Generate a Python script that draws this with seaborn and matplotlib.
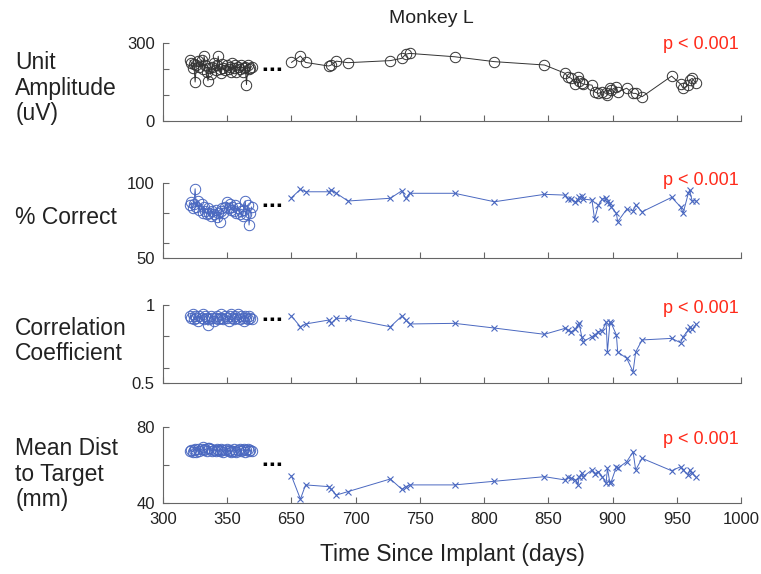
import numpy as np
import pandas as pd
import matplotlib
matplotlib.use("Agg")
import matplotlib.pyplot as plt
import matplotlib.transforms as mtrans
import seaborn as sns

# ---- data ----
early_days = [321, 322, 323, 324, 325, 326, 327, 328, 330, 331, 332, 333, 334, 335, 336,
              337, 338, 340, 341, 342, 343, 344, 345, 346, 347, 348, 350, 351, 352, 353,
              354, 355, 356, 357, 358, 360, 361, 362, 363, 364, 365, 366, 367, 368, 369]
late_days = [650, 657, 661, 679, 681, 685, 694, 727, 736, 739, 742, 777, 808, 847,
             863, 865, 868, 871, 873, 874, 876, 877, 884, 886, 889, 892, 895, 896,
             898, 899, 903, 904, 911, 916, 918, 923, 946, 953, 955, 959, 960, 962, 965]

amp_early = [235, 225, 205, 220, 150, 215, 230, 210, 235, 200, 250, 215, 190, 155, 205,
             180, 210, 225, 195, 215, 250, 200, 185, 220, 205, 195, 215, 200, 210, 190,
             225, 205, 215, 190, 210, 200, 215, 190, 205, 210, 140, 215, 200, 205, 210]
amp_late = [226, 251, 226, 212, 216, 231, 225, 233, 242, 258, 261, 248, 229, 216,
            184, 171, 164, 142, 171, 155, 145, 142, 138, 112, 106, 112, 106, 100,
            126, 119, 132, 112, 126, 106, 106, 93, 173, 142, 126, 138, 158, 164, 145]

pc_early = [85, 87, 83, 86, 96, 84, 88, 82, 86, 80, 84, 81, 79, 83, 80,
            78, 81, 79, 82, 77, 80, 74, 81, 83, 80, 84, 87, 83, 86, 82,
            84, 81, 85, 80, 83, 79, 81, 78, 82, 88, 79, 85, 72, 80, 84]
pc_late = [90.1, 95.6, 94.0, 94.0, 95.2, 93.0, 87.9, 89.7, 94.7, 89.7, 93.0, 93.0, 87.4, 92.3,
           91.8, 89.2, 89.2, 87.4, 88.5, 90.3, 91.2, 89.2, 88.5, 75.8, 85.2, 89.2, 89.7, 87.4,
           86.4, 84.1, 79.7, 74.2, 82.4, 81.5, 85.2, 80.8, 90.3, 84.0, 80.0, 93.0, 95.0, 88.0, 88.0]

cc_early = [0.93, 0.92, 0.94, 0.91, 0.93, 0.92, 0.90, 0.93, 0.92, 0.94, 0.91, 0.93, 0.92, 0.87, 0.91,
            0.93, 0.92, 0.90, 0.92, 0.93, 0.91, 0.92, 0.94, 0.92, 0.91, 0.93, 0.92, 0.90, 0.93, 0.94,
            0.92, 0.91, 0.93, 0.92, 0.94, 0.91, 0.93, 0.92, 0.90, 0.93, 0.92, 0.91, 0.93, 0.92, 0.91]
cc_late = [0.930, 0.861, 0.879, 0.904, 0.883, 0.915, 0.915, 0.861, 0.930, 0.904, 0.879, 0.883, 0.853, 0.813,
           0.851, 0.840, 0.830, 0.845, 0.872, 0.883, 0.798, 0.766, 0.798, 0.809, 0.830, 0.836, 0.890, 0.700,
           0.890, 0.883, 0.809, 0.700, 0.660, 0.574, 0.700, 0.777, 0.787, 0.759, 0.798, 0.840, 0.861, 0.845, 0.877]

md_early = [67.5, 68.0, 66.8, 67.9, 68.3, 67.0, 68.6, 67.4, 68.1, 69.2, 67.6, 68.4, 67.1, 68.8, 69.0,
            68.2, 67.3, 68.0, 67.5, 68.6, 67.9, 67.2, 68.4, 67.6, 66.9, 67.8, 68.3, 67.1, 67.7, 66.8,
            67.5, 68.1, 67.4, 66.9, 67.8, 68.5, 67.3, 67.9, 68.2, 67.0, 67.6, 68.1, 67.4, 67.8, 67.3]
md_late = [54.3, 42.2, 49.6, 48.7, 47.3, 44.3, 46.1, 52.7, 47.3, 48.7, 49.6, 49.6, 51.5, 53.9,
           52.2, 53.6, 53.0, 52.2, 49.6, 53.6, 55.7, 53.9, 57.4, 55.4, 56.5, 53.9, 50.4, 58.3,
           50.4, 51.3, 59.1, 58.3, 61.7, 66.9, 57.4, 63.5, 57.0, 59.1, 57.4, 54.8, 57.4, 55.7, 53.6]

row_labels = ["Unit\nAmplitude\n(uV)", "% Correct", "Correlation\nCoefficient", "Mean Dist\nto Target\n(mm)"]
y_limits = [(0, 300), (50, 100), (0.5, 1.0), (40, 80)]
y_ticks = [[0, 100, 200, 300], [50, 60, 80, 100], [0.5, 0.6, 0.8, 1.0], [40, 60, 80]]
y_ticklabels = [["0", "", "", "300"], ["50", "", "", "100"], ["0.5", "", "", "1"], ["40", "", "80"]]
x_ticks = [300, 350, 650, 700, 750, 800, 850, 900, 950, 1000]
dots_y = [200, 85.5, 0.91, 60.5]
p_text_y = [0.98, 1.03, 0.95, 0.83]
label_y_px = [88, 218, 341, 474]

series = [(amp_early, amp_late), (pc_early, pc_late), (cc_early, cc_late), (md_early, md_late)]

# ---- styling ----
sns.set_theme(style="white")
plt.rcParams['font.family'] = ['Liberation Sans', 'DejaVu Sans']

blue = "#4a68c0"
dark = "#333333"


# broken axis: squeeze out days 400-650
def fwd(d):
    d = np.asarray(d, dtype=float)
    return np.where(d <= 400, d, np.where(d >= 650, d - 250, 400))


def inv(c):
    c = np.asarray(c, dtype=float)
    return np.where(c <= 400, c, c + 250)


fig = plt.figure(figsize=(7.61, 5.74), dpi=100)
bottoms = [0.7897, 0.550, 0.3322, 0.1232]
heights = [0.1348, 0.1317, 0.1364, 0.1334]

for i in range(4):
    ax = fig.add_axes([0.2142, bottoms[i], 0.7595, heights[i]])
    ax.set_xscale('function', functions=(fwd, inv))
    early, late = series[i]
    col = dark if i == 0 else blue
    df_e = pd.DataFrame({"day": early_days, "val": early})
    df_l = pd.DataFrame({"day": late_days, "val": late})
    sns.lineplot(data=df_e, x="day", y="val", ax=ax, sort=False, estimator=None,
                 color=col, lw=0.7, marker="o", markersize=7.5, markerfacecolor="none",
                 markeredgecolor=col, markeredgewidth=0.7)
    if i == 0:
        sns.lineplot(data=df_l, x="day", y="val", ax=ax, sort=False, estimator=None,
                     color=col, lw=0.7, marker="o", markersize=7.5, markerfacecolor="none",
                     markeredgecolor=col, markeredgewidth=0.7)
    else:
        sns.lineplot(data=df_l, x="day", y="val", ax=ax, sort=False, estimator=None,
                     color=col, lw=0.7, marker="x", markersize=4.5,
                     markeredgecolor=col, markeredgewidth=0.8)

    ax.set_xlim(300, 1000)
    ax.set_ylim(*y_limits[i])
    ax.set_xticks(x_ticks)
    ax.set_yticks(y_ticks[i])
    ax.set_yticklabels(y_ticklabels[i])
    if i == 3:
        ax.set_xticklabels([str(t) for t in x_ticks])
        ax.set_xlabel("Time Since Implant (days)", fontsize=16.5, labelpad=12, color="#222222")
    else:
        ax.set_xticklabels([])
        ax.set_xlabel("")
    ax.set_ylabel("")
    ax.minorticks_off()

    for s in ["top", "right"]:
        ax.spines[s].set_visible(False)
    for s in ["left", "bottom"]:
        ax.spines[s].set_color("#666666")
        ax.spines[s].set_linewidth(0.8)
    ax.tick_params(direction="in", length=4, width=0.8, color="#666666",
                   labelsize=12, labelcolor="#222222", left=True, bottom=True, pad=6)

    # gap marker
    trans = mtrans.blended_transform_factory(ax.transAxes, ax.transData)
    ax.text(0.19, dots_y[i], "\u25aa \u25aa \u25aa", transform=trans, ha="center", va="center",
            fontsize=5, color="black", family="DejaVu Sans")

    ax.text(0.93, p_text_y[i], "p < 0.001", transform=ax.transAxes, ha="center", va="center",
            fontsize=13, color="#ff2a1a")

    fig.text(0.02, 1 - label_y_px[i] / 574, row_labels[i], ha="left", va="center",
             fontsize=16.5, linespacing=1.15, color="#222222")

fig.text(0.567, 0.968, "Monkey L", ha="center", va="center", fontsize=14, color="#222222")

fig.savefig("out.png", dpi=100)
